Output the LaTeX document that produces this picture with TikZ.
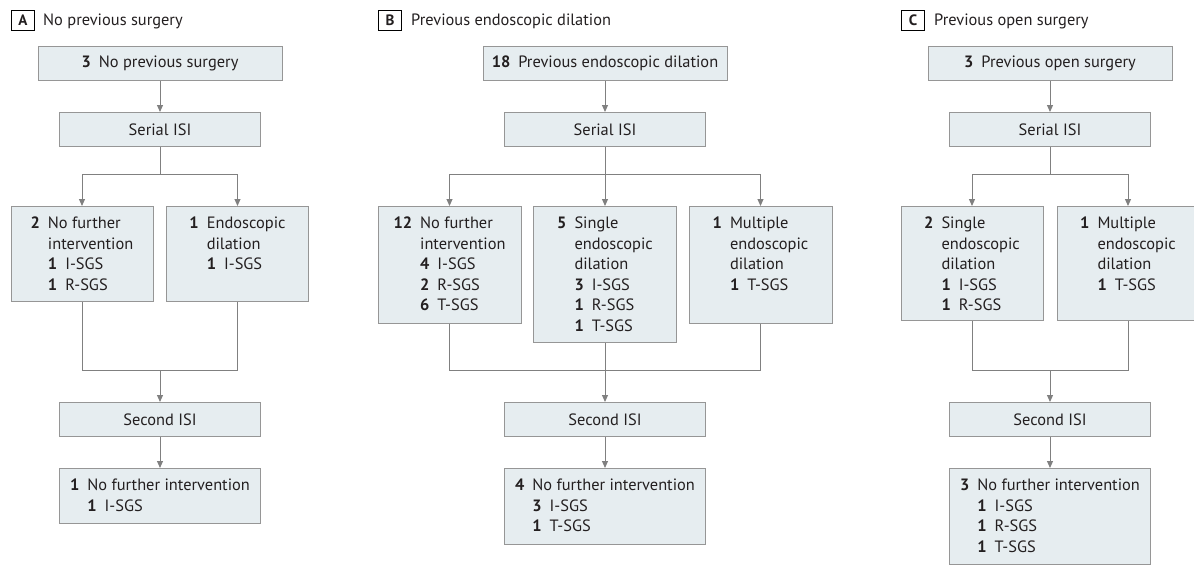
\documentclass[tikz,border=0pt]{standalone}
\usepackage{fontspec}
\setmainfont{PT Sans}
\usetikzlibrary{arrows.meta}
\definecolor{cBoxFill}{RGB}{230,237,240}
\definecolor{cBoxLine}{RGB}{150,150,150}
\definecolor{cLink}{RGB}{128,128,128}
\definecolor{cText}{RGB}{35,31,32}
\newcommand{\sgs}[2]{\textbf{#1}\hspace{8pt}#2}
\newenvironment{boxlines}{\begin{tabular}[t]{@{}r@{\hspace{8pt}}l@{}}}{\end{tabular}}

\begin{document}
\begin{tikzpicture}[x=1pt,y=-1pt,
  font=\fontsize{16.4}{20.5}\selectfont,text=cText,
  box/.style={draw=cBoxLine,fill=cBoxFill,line width=1pt,inner sep=0pt,minimum width=#1},
  onebox/.style={box=#1,minimum height=34,anchor=north},
  tallbox/.style 2 args={box=#1,anchor=north,text height=22pt,text depth=#2},
  link/.style={cLink,line width=1pt},
  flow/.style={link,-{Triangle[width=6pt,length=7pt]}},
  tag/.style={draw=black,fill=white,line width=0.9pt,minimum width=23,minimum height=20,inner sep=0pt,font=\fontsize{15}{16}\selectfont\bfseries,anchor=north west},
  title/.style={anchor=base west,inner sep=0pt}]
\useasboundingbox (0,0) rectangle (1194,566);
\node[tag] (aTag) at (11,10) {A};
\node[title] (aTitle) at (43,25) {No previous surgery};
\node[onebox=244] (a0) at (160,46) {\textbf{3}\hspace{8pt}No previous surgery};
\node[onebox=201] (a1) at (160,112) {Serial ISI};
\node[tallbox={142}{73pt}] (a2) at (82,206) {\begin{boxlines}\textbf{2}&No further\\&intervention\\&\sgs{1}{I-SGS}\\&\sgs{1}{R-SGS}\end{boxlines}};
\node[tallbox={142}{73pt}] (a3) at (237.5,206) {\begin{boxlines}\textbf{1}&Endoscopic\\&dilation\\&\sgs{1}{I-SGS}\end{boxlines}};
\node[onebox=201] (a4) at (160,402) {Second ISI};
\node[tallbox={201}{33pt}] (a5) at (160,468) {\begin{boxlines}\textbf{1}&No further intervention\\&\sgs{1}{I-SGS}\end{boxlines}};
\coordinate (aFork) at (160,174);
\coordinate (aJoin) at (160,370);
\draw[flow] (a0) -- (a1);
\draw[link] (a1) -- (aFork);
\draw[flow] (aFork) -| (a2);
\draw[flow] (aFork) -| (a3);
\draw[link] (a2) |- (aJoin);
\draw[link] (a3) |- (aJoin);
\draw[flow] (aJoin) -- (a4);
\draw[flow] (a4) -- (a5);

\node[tag] (bTag) at (378,10) {B};
\node[title] (bTitle) at (411,25) {Previous endoscopic dilation};
\node[onebox=244] (b0) at (605,46) {\textbf{18}\hspace{8pt}Previous endoscopic dilation};
\node[onebox=201] (b1) at (605,112) {Serial ISI};
\node[tallbox={143}{95pt}] (b2) at (449.5,206) {\begin{boxlines}\textbf{12}&No further\\&intervention\\&\sgs{4}{I-SGS}\\&\sgs{2}{R-SGS}\\&\sgs{6}{T-SGS}\end{boxlines}};
\node[tallbox={143}{114pt}] (b3) at (605,206) {\begin{boxlines}\textbf{5}&Single\\&endoscopic\\&dilation\\&\sgs{3}{I-SGS}\\&\sgs{1}{R-SGS}\\&\sgs{1}{T-SGS}\end{boxlines}};
\node[tallbox={143}{95pt}] (b4) at (760.5,206) {\begin{boxlines}\textbf{1}&Multiple\\&endoscopic\\&dilation\\&\sgs{1}{T-SGS}\end{boxlines}};
\node[onebox=201] (b5) at (605,402) {Second ISI};
\node[tallbox={201}{54pt}] (b6) at (605,468) {\begin{boxlines}\textbf{4}&No further intervention\\&\sgs{3}{I-SGS}\\&\sgs{1}{T-SGS}\end{boxlines}};
\coordinate (bFork) at (605,174);
\coordinate (bJoin) at (605,370);
\draw[flow] (b0) -- (b1);
\draw[link] (b1) -- (bFork);
\draw[flow] (bFork) -| (b2);
\draw[flow] (bFork) -- (b3);
\draw[flow] (bFork) -| (b4);
\draw[link] (b2) |- (bJoin);
\draw[link] (b3) -- (bJoin);
\draw[link] (b4) |- (bJoin);
\draw[flow] (bJoin) -- (b5);
\draw[flow] (b5) -- (b6);

\node[tag] (cTag) at (901,10) {C};
\node[title] (cTitle) at (934,25) {Previous open surgery};
\node[onebox=244] (c0) at (1050,46) {\textbf{3}\hspace{8pt}Previous open surgery};
\node[onebox=201] (c1) at (1050,112) {Serial ISI};
\node[tallbox={142}{92pt}] (c2) at (972,206) {\begin{boxlines}\textbf{2}&Single\\&endoscopic\\&dilation\\&\sgs{1}{I-SGS}\\&\sgs{1}{R-SGS}\end{boxlines}};
\node[tallbox={142}{92pt}] (c3) at (1128,206) {\begin{boxlines}\textbf{1}&Multiple\\&endoscopic\\&dilation\\&\sgs{1}{T-SGS}\end{boxlines}};
\node[onebox=201] (c4) at (1050,402) {Second ISI};
\node[tallbox={201}{74pt}] (c5) at (1050,468) {\begin{boxlines}\textbf{3}&No further intervention\\&\sgs{1}{I-SGS}\\&\sgs{1}{R-SGS}\\&\sgs{1}{T-SGS}\end{boxlines}};
\coordinate (cFork) at (1050,174);
\coordinate (cJoin) at (1050,370);
\draw[flow] (c0) -- (c1);
\draw[link] (c1) -- (cFork);
\draw[flow] (cFork) -| (c2);
\draw[flow] (cFork) -| (c3);
\draw[link] (c2) |- (cJoin);
\draw[link] (c3) |- (cJoin);
\draw[flow] (cJoin) -- (c4);
\draw[flow] (c4) -- (c5);
\end{tikzpicture}
\end{document}
